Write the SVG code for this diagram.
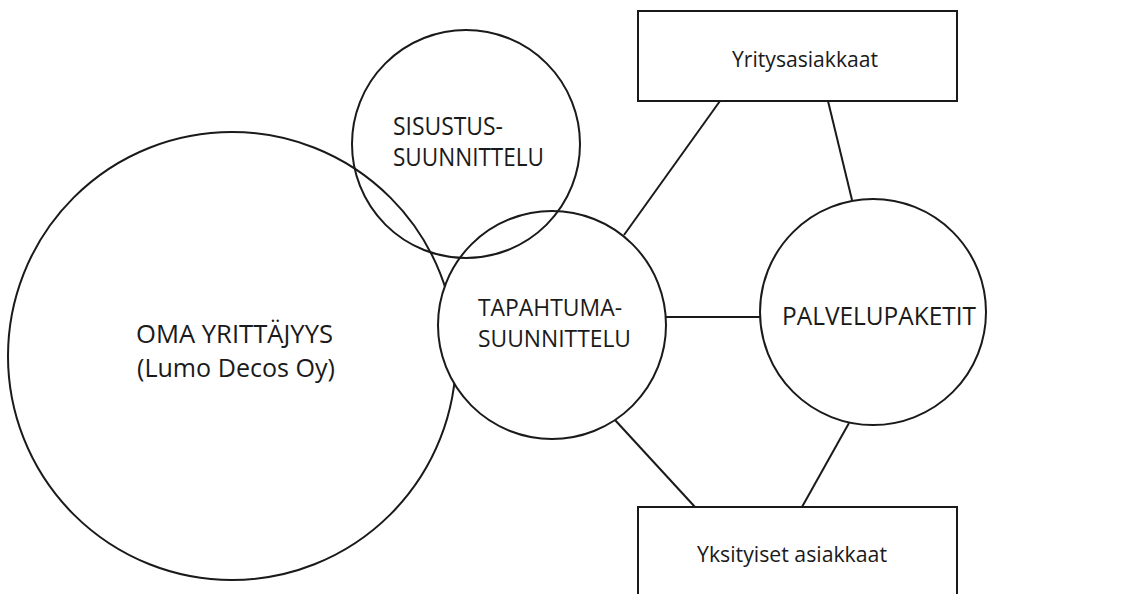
<svg xmlns="http://www.w3.org/2000/svg" width="1139" height="594" viewBox="0 0 1139 594">
<style>
.shape{fill:none;stroke:#1a1a1a;stroke-width:2}
.filled{fill:#ffffff;stroke:#1a1a1a;stroke-width:2}
.conn line{stroke:#1a1a1a;stroke-width:2}
text{font-family:"Open Sans","Noto Sans","Liberation Sans",sans-serif;fill:#1a1a1a}
.big{font-size:25px}
.mid{font-size:24px}
.box{font-size:22px}
</style>
<rect width="1139" height="594" fill="#ffffff"/>
<g id="oma-yrittajyys">
<circle class="shape" cx="232" cy="356" r="224"/>
<text class="big" x="136" y="343" textLength="197" lengthAdjust="spacingAndGlyphs">OMA YRITTÄJYYS</text>
<text class="big" x="137" y="377" textLength="198" lengthAdjust="spacingAndGlyphs">(Lumo Decos Oy)</text>
</g>
<g id="tapahtumasuunnittelu">
<circle class="filled" cx="552" cy="325" r="114"/>
<text class="mid" x="478" y="316" textLength="144" lengthAdjust="spacingAndGlyphs">TAPAHTUMA-</text>
<text class="mid" x="478" y="347" textLength="153" lengthAdjust="spacingAndGlyphs">SUUNNITTELU</text>
</g>
<g id="sisustussuunnittelu">
<circle class="shape" cx="466" cy="144" r="114"/>
<text class="big" x="393" y="135" textLength="110" lengthAdjust="spacingAndGlyphs">SISUSTUS-</text>
<text class="big" x="393" y="166" textLength="151" lengthAdjust="spacingAndGlyphs">SUUNNITTELU</text>
</g>
<g id="palvelupaketit">
<circle class="shape" cx="873" cy="312" r="113"/>
<text class="big" x="782" y="325" textLength="194" lengthAdjust="spacingAndGlyphs">PALVELUPAKETIT</text>
</g>
<g id="yritysasiakkaat">
<rect class="shape" x="638" y="11" width="319" height="90"/>
<text class="box" x="732" y="67" textLength="146" lengthAdjust="spacingAndGlyphs">Yritysasiakkaat</text>
</g>
<g id="yksityiset-asiakkaat">
<rect class="shape" x="638" y="507" width="319" height="100"/>
<text class="box" x="697" y="562" textLength="190" lengthAdjust="spacingAndGlyphs">Yksityiset asiakkaat</text>
</g>
<g id="connectors" class="conn">
<line x1="720" y1="101" x2="624" y2="235"/>
<line x1="828" y1="101" x2="852" y2="200"/>
<line x1="666" y1="317" x2="760" y2="317"/>
<line x1="615" y1="420" x2="695" y2="507"/>
<line x1="849" y1="423" x2="802" y2="507"/>
</g>
</svg>
